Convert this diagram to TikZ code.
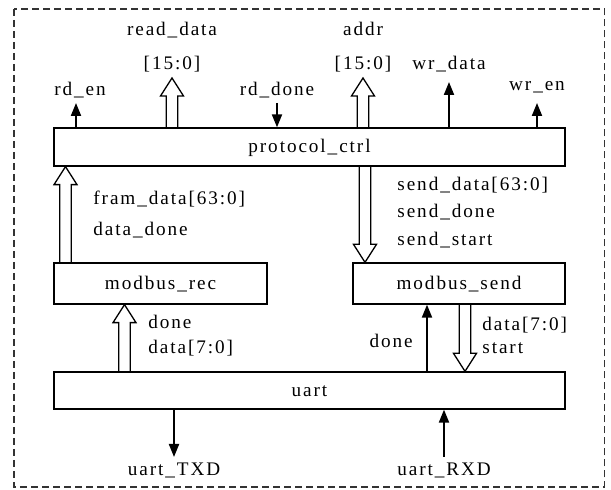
\documentclass[tikz,border=0pt]{standalone}
\usepackage{fontspec}
\setmainfont{Liberation Serif}[LetterSpace=10]
\usetikzlibrary{arrows.meta}
\usetikzlibrary{calc}

\tikzset{
  blk/.style={draw, line width=0.65pt, inner sep=0pt},
  lbl/.style={inner sep=0pt, text height=1.5ex, text depth=0.3ex, font=\fontsize{9.6}{11}\selectfont},
  sig/.style={line width=1pt, -{Triangle[length=6.5pt,width=5pt]}},
  busline/.style={line width=0.65pt, line join=miter},
}

% hollow bus arrow, vertical, from #1 to #2
\newcommand{\bus}[2]{%
  \draw[busline] let \p1=(#1), \p2=(#2), \n1={ifthenelse(\y2>\y1,1,-1)} in
    (\x1-2.9pt,\y1) -- (\x1-2.9pt,\y2-\n1*9pt) -- (\x1-5.75pt,\y2-\n1*9pt) -- (\x2,\y2)
    -- (\x1+5.75pt,\y2-\n1*9pt) -- (\x1+2.9pt,\y2-\n1*9pt) -- (\x1+2.9pt,\y1);}

\begin{document}
\begin{tikzpicture}[x=0.5pt, y=-0.5pt]
  \useasboundingbox (0,0) rectangle (611,490);
  \draw[line width=0.65pt, dash pattern=on 3.5pt off 2pt, black!80] (14,9) rectangle (604.5,487);

  % blocks
  \node[blk, minimum width=255.5pt, minimum height=19pt] (ctrl) at (309.5,147) {};
  \node[lbl] at (ctrl.center) {protocol\_ctrl};
  \node[blk, minimum width=106.5pt, minimum height=20.5pt] (rec) at (160.5,283.5) {};
  \node[lbl] at (rec.center) {modbus\_rec};
  \node[blk, minimum width=106pt, minimum height=20.5pt] (send) at (459,283.5) {};
  \node[lbl] at (send.center) {modbus\_send};
  \node[blk, minimum width=255.5pt, minimum height=18.5pt] (uart) at (309.5,390.5) {};
  \node[lbl] at (uart.center) {uart};

  % arrow positions
  \coordinate (rden) at (76,103);
  \coordinate (rdata) at (172,78);
  \coordinate (rddone) at (277,103);
  \coordinate (addr) at (363,78);
  \coordinate (wrdata) at (449,82);
  \coordinate (wren) at (537,103);
  \coordinate (fram) at (65.5,0);
  \coordinate (sdata) at (365,0);
  \coordinate (rxbus) at (124.5,0);
  \coordinate (sdone) at (427,0);
  \coordinate (txbus) at (465,0);
  \coordinate (txd) at (174,457);
  \coordinate (rxd) at (444,457);

  % top signals
  \draw[sig] (rden |- ctrl.north) -- (rden);
  \bus{rdata |- ctrl.north}{rdata}
  \draw[sig] (rddone) -- (rddone |- ctrl.north);
  \bus{addr |- ctrl.north}{addr}
  \draw[sig] (wrdata |- ctrl.north) -- (wrdata);
  \draw[sig] (wren |- ctrl.north) -- (wren);

  \node[lbl] (l_rden) at (80,90) {rd\_en};
  \node[lbl] (l_rdata) at (172,30) {read\_data};
  \node[lbl] (l_rdatab) at (172,64) {[15:0]};
  \node[lbl] (l_rddone) at (277,90) {rd\_done};
  \node[lbl] (l_addr) at (363,30) {addr};
  \node[lbl] (l_addrb) at (363,64) {[15:0]};
  \node[lbl] (l_wrdata) at (449,64) {wr\_data};
  \node[lbl] (l_wren) at (537,85) {wr\_en};

  % middle buses
  \bus{fram |- rec.north}{fram |- ctrl.south}
  \bus{sdata |- ctrl.south}{sdata |- send.north}
  \node[lbl, anchor=west] (l_fram) at (93,199) {fram\_data[63:0]};
  \node[lbl, anchor=west] (l_ddone) at (93,230) {data\_done};
  \node[lbl, anchor=west] (l_sdata) at (397,185) {send\_data[63:0]};
  \node[lbl, anchor=west] (l_sdone) at (397,212) {send\_done};
  \node[lbl, anchor=west] (l_sstart) at (397,240) {send\_start};

  % lower buses
  \bus{rxbus |- uart.north}{rxbus |- rec.south}
  \draw[sig] (sdone |- uart.north) -- (sdone |- send.south);
  \bus{txbus |- send.south}{txbus |- uart.north}
  \node[lbl, anchor=west] (l_rdone) at (148,323) {done};
  \node[lbl, anchor=west] (l_rbyte) at (148,348) {data[7:0]};
  \node[lbl, anchor=east] (l_tdone) at (413,342) {done};
  \node[lbl, anchor=west] (l_tbyte) at (482,325) {data[7:0]};
  \node[lbl, anchor=west] (l_tstart) at (482,348) {start};

  % serial lines
  \draw[sig] (txd |- uart.south) -- (txd);
  \draw[sig] (rxd) -- (rxd |- uart.south);
  \node[lbl] (l_txd) at (174,470) {uart\_TXD};
  \node[lbl] (l_rxd) at (444,470) {uart\_RXD};
\end{tikzpicture}
\end{document}
